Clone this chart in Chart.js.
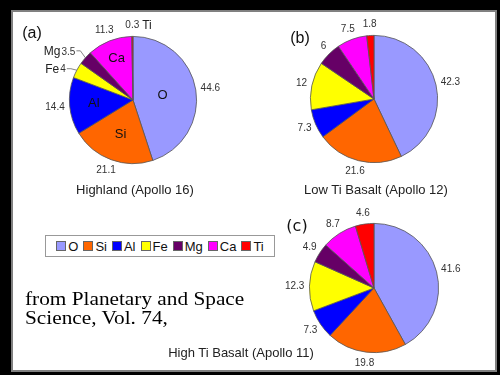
<!DOCTYPE html>
<html>
<head>
<meta charset="utf-8">
<script src="https://cdn.jsdelivr.net/npm/chart.js@4.4.0/dist/chart.umd.min.js"></script>
<style>
  html, body { margin: 0; padding: 0; }
  body { width: 500px; height: 375px; background: #000; position: relative; overflow: hidden; font-family: "Liberation Sans", Arial, sans-serif; }
  #frame { position: absolute; left: 11px; top: 10px; width: 482px; height: 358px; background: #fff; border: 2px solid #808080; }
  canvas { position: absolute; }
  .title { position: absolute; font-size: 13px; color: #222; white-space: nowrap; transform: translate(-50%, -50%); }
  .tag { position: absolute; font-size: 16px; color: #111; transform: translate(-50%, -50%); }
  #legend { position: absolute; left: 45px; top: 235px; width: 228px; height: 20px; border: 1px solid #999; background: #fff;
            display: flex; align-items: center; justify-content: center; font-size: 13px; color: #111; }
  #legend span.sw { display: inline-block; width: 8px; height: 8px; border: 1px solid #666; margin: 0 2px 0 5px; }
  #legend span.sw:first-child { margin-left: 0; }
  #source { position: absolute; left: 25px; top: 289px; font-family: "Liberation Serif", "Times New Roman", serif; font-size: 19px; line-height: 19px; color: #000; white-space: nowrap;
            transform: scaleX(1.12); transform-origin: left top; }
</style>
</head>
<body>
<div id="frame"></div>
<canvas id="pieA" width="200" height="180" style="left:33px;top:10px"></canvas>
<canvas id="pieB" width="200" height="180" style="left:274px;top:9px"></canvas>
<canvas id="pieC" width="200" height="180" style="left:274px;top:198px"></canvas>
<div class="tag" style="left:32px;top:33px">(a)</div>
<div class="tag" style="left:300px;top:38px">(b)</div>
<div class="tag" style="left:297px;top:225px;font-family:'DejaVu Sans'">(c)</div>
<div class="title" style="left:135px;top:189px">Highland (Apollo 16)</div>
<div class="title" style="left:376px;top:189px">Low Ti Basalt (Apollo 12)</div>
<div class="title" style="left:241px;top:352px">High Ti Basalt (Apollo 11)</div>
<div id="legend"></div>
<div id="source">from Planetary and Space<br>Science, Vol. 74,</div>
<script>
// elements, in the order the slices go clockwise from 12 o'clock
const elements = ["O", "Si", "Al", "Fe", "Mg", "Ca", "Ti"];
const colors = ["#9999ff", "#ff6600", "#0000ff", "#ffff00", "#660066", "#ff00ff", "#ff0000"];

// composition (wt %)
const highland = [44.6, 21.1, 14.4, 4, 3.5, 11.3, 0.3];
const lowTi = [42.3, 21.6, 7.3, 12, 6, 7.5, 1.8];
const highTi = [41.6, 19.8, 7.3, 12.3, 4.9, 8.7, 4.6];

// legend
const legend = document.getElementById("legend");
elements.forEach((el, i) => {
  const sw = document.createElement("span");
  sw.className = "sw";
  sw.style.background = colors[i];
  legend.appendChild(sw);
  legend.appendChild(document.createTextNode(el));
});

const pieLabels = {
  id: "pieLabels",
  afterDatasetsDraw(chart, args, opts) {
    const ctx = chart.ctx;
    const meta = chart.getDatasetMeta(0);
    const values = chart.data.datasets[0].data;
    const inner = opts.inner || {};
    const leaders = opts.leaders || {};
    const after = opts.after || {};
    ctx.save();
    ctx.textBaseline = "middle";
    meta.data.forEach((arc, i) => {
      const p = arc.getProps(["x", "y", "startAngle", "endAngle", "outerRadius"], true);
      const mid = (p.startAngle + p.endAngle) / 2;
      const dx = Math.cos(mid), dy = Math.sin(mid);
      const R = p.outerRadius;
      const txt = String(values[i]);

      // names inside the slices
      if (inner[i] !== undefined) {
        ctx.font = "13px 'Liberation Sans', Arial";
        ctx.fillStyle = "#111";
        ctx.textAlign = "center";
        ctx.fillText(elements[i], p.x + dx * R * inner[i], p.y + dy * R * inner[i]);
      }

      ctx.font = "10px 'Liberation Sans', Arial";
      ctx.fillStyle = "#333";

      if (leaders[i]) {
        // value (and name) pushed out with a small leader line
        const ex = p.x + dx * R, ey = p.y + dy * R;
        const lx = ex + leaders[i].dx, ly = ey + leaders[i].dy;
        ctx.strokeStyle = "#666";
        ctx.lineWidth = 0.8;
        ctx.beginPath();
        ctx.moveTo(ex, ey);
        ctx.lineTo(lx + 4, ly);
        ctx.lineTo(lx, ly);
        ctx.stroke();
        ctx.textAlign = "right";
        ctx.fillText(txt, lx - 1, ly + 1);
        const w = ctx.measureText(txt).width;
        ctx.font = "12px 'Liberation Sans', Arial";
        ctx.fillStyle = "#222";
        ctx.fillText(elements[i], lx - w - 2, ly + 1);
        return;
      }

      ctx.textAlign = "center";
      const w = ctx.measureText(txt).width;
      const gap = 5;
      const tx = p.x + dx * (R + gap) + dx * w / 2;
      const ty = p.y + dy * (R + gap) + dy * 6;
      ctx.fillText(txt, tx, ty);
      if (after[i]) {
        ctx.font = "12px 'Liberation Sans', Arial";
        ctx.fillStyle = "#222";
        ctx.textAlign = "left";
        ctx.fillText(elements[i], tx + w / 2 + 3, ty);
      }
    });
    ctx.restore();
  }
};

function makePie(id, values, pad, labelOpts) {
  return new Chart(document.getElementById(id), {
    type: "pie",
    data: {
      labels: elements,
      datasets: [{
        data: values,
        backgroundColor: colors,
        borderColor: "#555",
        borderWidth: 0.8
      }]
    },
    options: {
      responsive: false,
      animation: false,
      layout: { padding: pad },
      plugins: {
        legend: { display: false },
        tooltip: { enabled: false },
        pieLabels: labelOpts
      }
    },
    plugins: [pieLabels]
  });
}

makePie("pieA", highland, 26, {
  inner: { 0: 0.47, 1: 0.57, 2: 0.62, 5: 0.7 },
  leaders: { 3: { dx: -10, dy: -1.5 }, 4: { dx: -9, dy: -7 } },
  after: { 6: true }
});
makePie("pieB", lowTi, 26, {});
makePie("pieC", highTi, 25, {});
</script>
</body>
</html>
